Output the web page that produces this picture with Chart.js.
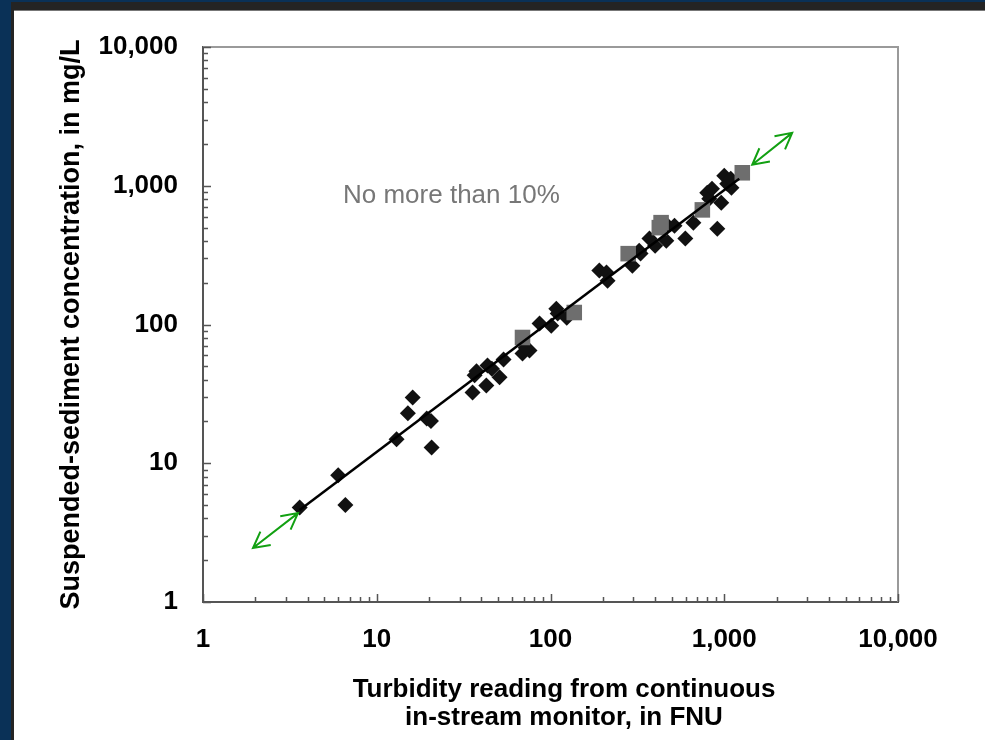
<!DOCTYPE html>
<html>
<head>
<meta charset="utf-8">
<script src="https://cdn.jsdelivr.net/npm/chart.js@4.4.1/dist/chart.umd.min.js"></script>
<style>
  html, body { margin: 0; padding: 0; }
  body { width: 985px; height: 740px; background: #0a3157; position: relative; overflow: hidden; }
  #band { position: absolute; left: 11px; top: 2px; right: 0; bottom: 0; background: #242424; }
  #panel { position: absolute; left: 14px; top: 10px; right: 0; bottom: 0; background: #fff; border-top: 1px solid #777; }
  #chart { position: absolute; left: 0; top: 0; }
</style>
</head>
<body>
<div id="band"></div>
<div id="panel"></div>
<canvas id="chart" width="985" height="740"></canvas>
<script>
// === Data ===
const xTickValues = [1, 10, 100, 1000, 10000];
const yTickValues = [1, 10, 100, 1000, 10000];

// black diamonds: turbidity (FNU) vs suspended-sediment concentration (mg/L)
const turbidity = [3.6, 6.0, 6.6, 13.0, 15.1, 16.1, 19.4, 20.5, 20.7, 35.6, 36.6, 37.5,
  42.7, 43.4, 46, 50.9, 53.7, 69, 75.7, 72, 86.5, 101, 108, 110, 124, 191, 210, 213,
  296, 324, 330, 371, 400, 464, 470, 517, 597, 664, 798, 820, 850, 912, 961, 1000,
  1040, 1100, 1090];
const ssc = [4.8, 8.2, 5.0, 14.9, 22.9, 29.8, 21.0, 20.2, 13.0, 32.4, 43, 46,
  36.4, 50.7, 48, 41.6, 56, 61.8, 65, 68, 101.6, 98, 130, 120, 112, 245, 237, 207,
  265, 340, 325, 416, 370, 402, 520, 515, 416, 542, 891, 805, 950, 490, 755, 1180,
  1033, 968, 1122];

// gray squares
const turbidityGray = [69, 137, 280, 423, 433, 748, 1270];
const sscGray = [80.6, 122, 324, 499, 542, 670, 1240];

// fitted relation
const fitTurbidity = [3.6, 1220];
const fitSsc = [4.6, 1125];

// green double arrows (extension of the fit)
const arrowLowTurbidity = [1.94, 3.52];
const arrowLowSsc = [2.45, 4.37];
const arrowHighTurbidity = [1449, 2460];
const arrowHighSsc = [1416, 2405];

const noteText = "No more than 10%";
const xTitle = ["Turbidity reading from continuous", "in-stream monitor, in FNU"];
const yTitle = "Suspended-sediment concentration, in mg/L";

const FONT = "'Liberation Sans', Arial, sans-serif";
const toPoints = (xs, ys) => xs.map((x, i) => ({ x, y: ys[i] }));

// === Plot frame: top/right border and inward log ticks ===
const framePlugin = {
  id: 'frame',
  beforeDatasetsDraw(chart) {
    const { ctx, chartArea: a, scales: { x, y } } = chart;
    ctx.save();
    ctx.strokeStyle = '#9a9a9a';
    ctx.lineWidth = 2;
    ctx.beginPath();
    ctx.moveTo(a.left, a.top);
    ctx.lineTo(a.right, a.top);
    ctx.lineTo(a.right, a.bottom);
    ctx.stroke();

    ctx.strokeStyle = '#555';
    ctx.lineWidth = 1.5;
    ctx.beginPath();
    for (let d = 1; d < 10000; d *= 10) {
      for (let m = 1; m <= 10; m++) {
        const len = (m === 1 || m === 10) ? 8 : 5;
        const px = Math.round(x.getPixelForValue(d * m)) + 0.5;
        ctx.moveTo(px, a.bottom);
        ctx.lineTo(px, a.bottom - len);
        const py = Math.round(y.getPixelForValue(d * m)) + 0.5;
        ctx.moveTo(a.left, py);
        ctx.lineTo(a.left + len, py);
      }
    }
    ctx.stroke();
    ctx.restore();
  }
};

// === Arrows, note and x-axis title ===
function drawArrow(ctx, x1, y1, x2, y2) {
  const head = 18, spread = Math.PI * 28 / 180;
  ctx.beginPath();
  ctx.moveTo(x1, y1);
  ctx.lineTo(x2, y2);
  [[x2, y2, x1, y1], [x1, y1, x2, y2]].forEach(([fx, fy, tx, ty]) => {
    const ang = Math.atan2(fy - ty, fx - tx);
    ctx.moveTo(tx + head * Math.cos(ang - spread), ty + head * Math.sin(ang - spread));
    ctx.lineTo(tx, ty);
    ctx.lineTo(tx + head * Math.cos(ang + spread), ty + head * Math.sin(ang + spread));
  });
  ctx.stroke();
}

const annotationPlugin = {
  id: 'annotations',
  afterDraw(chart) {
    const { ctx, scales: { x, y } } = chart;
    ctx.save();
    ctx.strokeStyle = '#12a012';
    ctx.lineWidth = 2;
    ctx.lineJoin = 'miter';
    drawArrow(ctx,
      x.getPixelForValue(arrowLowTurbidity[0]), y.getPixelForValue(arrowLowSsc[0]),
      x.getPixelForValue(arrowLowTurbidity[1]), y.getPixelForValue(arrowLowSsc[1]));
    drawArrow(ctx,
      x.getPixelForValue(arrowHighTurbidity[0]), y.getPixelForValue(arrowHighSsc[0]),
      x.getPixelForValue(arrowHighTurbidity[1]), y.getPixelForValue(arrowHighSsc[1]));

    ctx.fillStyle = '#777';
    ctx.font = `26px ${FONT}`;
    ctx.textAlign = 'left';
    ctx.textBaseline = 'middle';
    ctx.fillText(noteText, 343, 196);

    ctx.fillStyle = '#000';
    ctx.font = `bold 26px ${FONT}`;
    ctx.textAlign = 'center';
    xTitle.forEach((line, i) => ctx.fillText(line, 564, 690 + i * 28));
    ctx.restore();
  }
};

const tickFont = { family: FONT, size: 26, weight: 'bold', lineHeight: 1.2 };
const formatTick = v => Number(v).toLocaleString('en-US');

new Chart(document.getElementById('chart'), {
  type: 'scatter',
  data: {
    datasets: [
      {
        label: 'Fit',
        type: 'line',
        data: toPoints(fitTurbidity, fitSsc),
        borderColor: '#000',
        borderWidth: 2.5,
        pointRadius: 0,
        fill: false
      },
      {
        label: 'Gray samples',
        data: toPoints(turbidityGray, sscGray),
        pointStyle: 'rect',
        pointRadius: 11,
        backgroundColor: '#6e6e6e',
        borderWidth: 0
      },
      {
        label: 'Samples',
        data: toPoints(turbidity, ssc),
        pointStyle: 'rectRot',
        pointRadius: 8,
        backgroundColor: '#111',
        borderWidth: 0
      }
    ]
  },
  options: {
    responsive: false,
    animation: false,
    layout: { padding: { left: 55, top: 47, right: 87, bottom: 0 } },
    plugins: { legend: { display: false }, tooltip: { enabled: false } },
    scales: {
      x: {
        type: 'logarithmic',
        min: 1,
        max: 10000,
        grid: { display: false, drawTicks: false },
        border: { display: true, color: '#555', width: 2 },
        ticks: { padding: 22, color: '#000', font: tickFont, autoSkip: false, maxRotation: 0, callback: formatTick },
        afterBuildTicks: s => { s.ticks = xTickValues.map(v => ({ value: v })); },
        afterFit: s => { s.height = 138; }
      },
      y: {
        type: 'logarithmic',
        min: 1,
        max: 10000,
        grid: { display: false, drawTicks: false },
        border: { display: true, color: '#555', width: 2 },
        ticks: { padding: 25, color: '#000', font: tickFont, autoSkip: false, callback: formatTick },
        title: { display: true, text: yTitle, color: '#000', padding: 0, font: { family: FONT, size: 27, weight: 'bold', lineHeight: 1.2 } },
        afterBuildTicks: s => { s.ticks = yTickValues.map(v => ({ value: v })); },
        afterFit: s => { s.width = 148; }
      }
    }
  },
  plugins: [framePlugin, annotationPlugin]
});
</script>
</body>
</html>
